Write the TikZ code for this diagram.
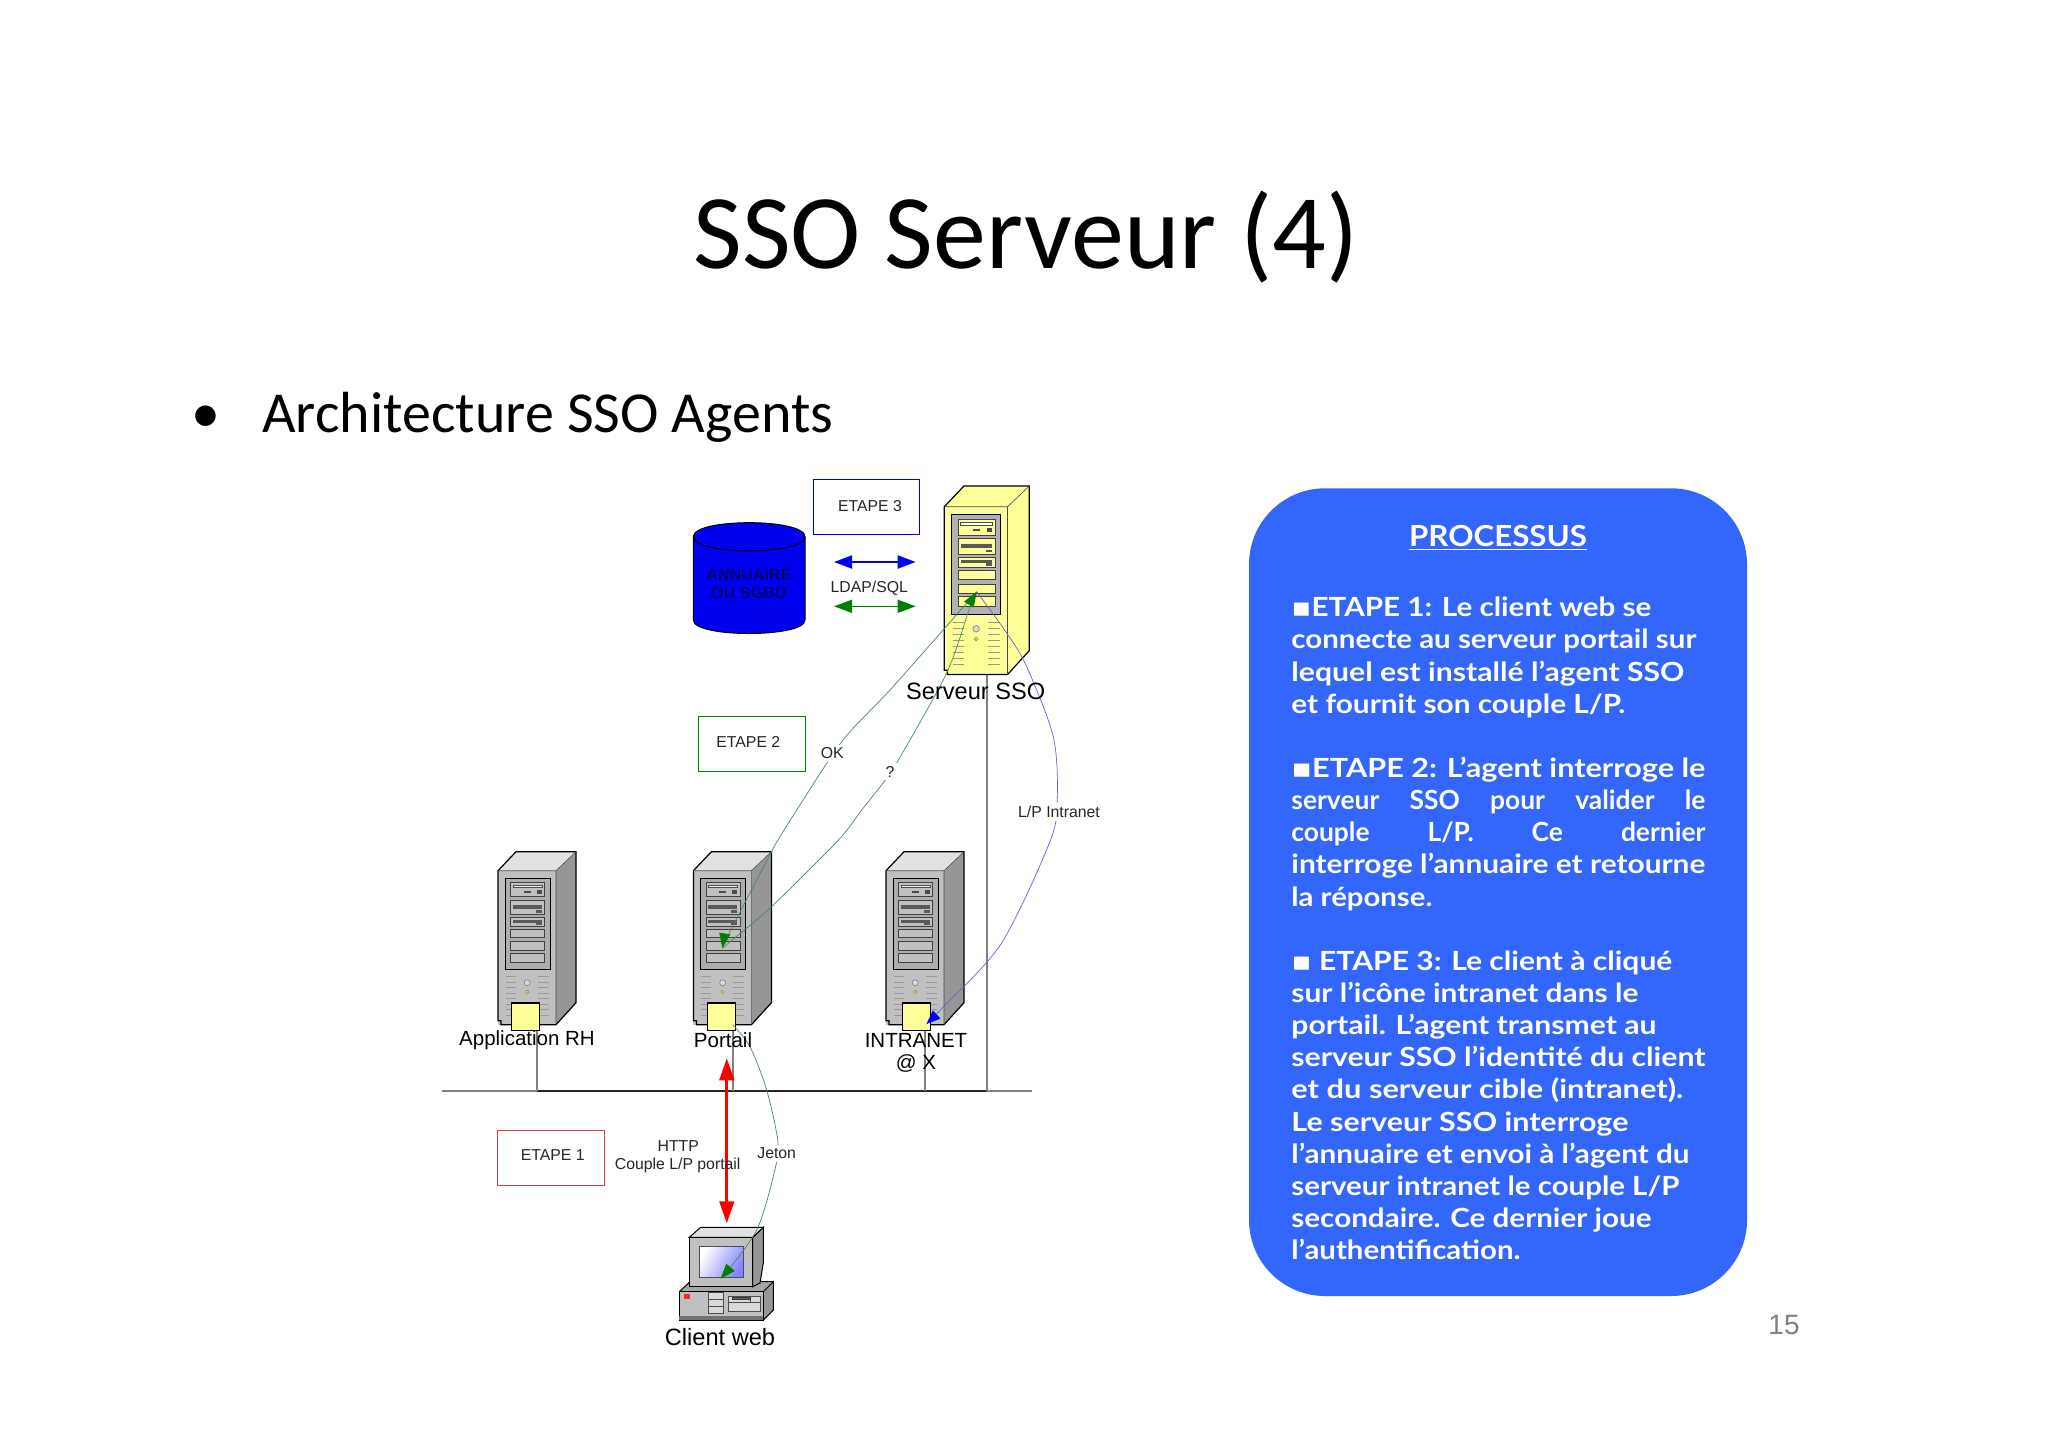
\documentclass[tikz,border=0pt]{standalone}
\usepackage{fontspec}
\usepackage{graphicx}
\usetikzlibrary{arrows.meta}
\setmainfont{Liberation Sans}
\newfontfamily\titlefont{Carlito}
\newfontfamily\comicfont{Lato}
\newfontfamily\symbfont{DejaVu Sans}
\definecolor{boxblue}{RGB}{51,102,250}
\definecolor{cylblue}{RGB}{0,0,240}
\definecolor{dgreen}{RGB}{0,128,0}
\definecolor{thingreen}{RGB}{70,140,90}
\definecolor{thinblue}{RGB}{100,100,220}
\definecolor{yel}{RGB}{255,255,153}
\definecolor{srvfront}{RGB}{192,192,192}
\definecolor{srvside}{RGB}{150,150,150}
\definecolor{srvtop}{RGB}{225,225,225}
\definecolor{etred}{RGB}{225,60,75}
\definecolor{annutext}{RGB}{0,0,110}
\definecolor{scrblue}{RGB}{130,130,255}
\tikzset{
  sl/.style={font=\fontsize{7.9}{9.5}\selectfont, text=black!85, inner sep=0pt},
  bigl/.style={font=\fontsize{10.25}{12}\selectfont, text=black, inner sep=0pt},
  biggerl/.style={font=\fontsize{11.8}{14}\selectfont, text=black, inner sep=0pt},
  gapl/.style={sl, fill=white, inner sep=1.5pt},
  etapebox/.style={draw=#1, line width=.55pt, fill=white},
  wire/.style={draw=black!50, line width=.55pt},
  thing/.style={draw=thingreen, line width=.35pt},
  thinb/.style={draw=thinblue, line width=.35pt},
  gtip/.style={-{Triangle[length=7.5pt,width=5.5pt,fill=dgreen,color=dgreen]}},
  pline/.style={anchor=base west, inner sep=0pt, text=white, font=\comicfont\bfseries\fontsize{13.2}{16}\selectfont},
}
\newcommand{\fitline}[2]{\resizebox{#1}{\height}{#2}}
\newcommand{\pl}[3]{\node[pline] (pl#1) at (1291,{616.7+32.15*#1}) {\fitline{#2pt}{#3}};}
\newcommand{\pj}[3]{\node[pline] (pl#1) at (1291,{616.7+32.15*#1}) {\makebox[#2pt][s]{#3}};}
% name x y scale front side top panel bay
\newcommand{\serveur}[9]{%
\begin{scope}[shift={(#2,#3)},scale=#4]
  \fill[#6] (58,0) -- (78,-19) -- (78,132) -- (58,154) -- cycle;
  \fill[#7] (0,0) -- (18,-19) -- (78,-19) -- (58,0) -- cycle;
  \fill[#5] (0,0) rectangle (58,154);
  \draw[line width=.6pt,black] (0,150) -- (0,0) -- (18,-19) -- (78,-19) -- (78,132) -- (58,154) -- (3,154) -- (3,150) -- cycle;
  \draw[line width=.3pt,black!70] (0,0) -- (58,0) -- (78,-19) (58,0) -- (58,154);
  \draw[line width=.5pt,black,fill=#8] (7,7.6) rectangle (52,98.6);
  \foreach \a/\b in {12/26,29.3/43.3,46.6/55.3,58.6/67,71/79.3,82.6/91.3}{
    \draw[line width=.3pt,black!75,fill=#9] (12.5,\a) rectangle (46.5,\b);
  }
  \draw[line width=.3pt,black!70,fill=white!80!#9] (15,14.5) rectangle (44,17);
  \fill[black!70] (26,20) rectangle (33,22);
  \fill[black!70] (39,19.5) rectangle (44,23);
  \fill[black!65] (15,34) rectangle (44,38);
  \fill[black!65] (38,39.5) rectangle (44,42);
  \fill[black!65] (15,49) rectangle (44,52);
  \fill[black!65] (38,51) rectangle (44,54.5);
  \foreach \v in {0,1,...,7}{
    \draw[line width=.6pt,black!40] (8,106+5.5*\v) -- (18,106+5.5*\v);
    \draw[line width=.6pt,black!40] (40,106+5.5*\v) -- (51,106+5.5*\v);
  }
  \draw[line width=.3pt,black!50,fill=white!85!black] (29.2,112) circle (3);
  \draw[line width=.2pt,black!50,fill=yellow!85!green] (29.2,121.3) circle (1.8);
  \coordinate (#1) at (29,77);
\end{scope}}
\begin{document}
\begin{tikzpicture}[x=.5pt,y=-.5pt]
\useasboundingbox (0,0) rectangle (2048,1447);
\fill[white] (0,0) rectangle (2048,1447);

% slide text
\node[anchor=base, inner sep=0pt, font=\titlefont\fontsize{53}{60}\selectfont] (title) at (1026,268) {SSO Serveur (4)};
\node[anchor=base, inner sep=0pt, font=\titlefont\fontsize{29}{34}\selectfont] (bul) at (205.7,432) {•};
\node[anchor=base west, inner sep=0pt, font=\titlefont\fontsize{29}{34}\selectfont] (sub) at (262,432) {Architecture SSO Agents};
\node[anchor=center, inner sep=0pt, text=black!50, font=\fontsize{14}{16}\selectfont] (pnum) at (1784,1325) {15};

% network wires
\coordinate (hL) at (442,1091);
\coordinate (hR) at (1032,1091);
\draw[wire] (hL) -- (hR);
\draw[line width=.6pt,black!85] (537,1091) -- (987,1091);
\coordinate (w1) at (537,1091);
\coordinate (w2) at (733,1091);
\coordinate (w3) at (925,1091);
\coordinate (w4) at (987,1091);
\draw[wire] (w1) -- (537,1030);
\draw[wire] (w2) -- (733,1030);
\draw[wire] (w3) -- (925,1030);
\draw[wire] (w4) -- (987,675);

% servers
\serveur{srvRH}{498}{870.7}{1}{srvfront}{srvside}{srvtop}{srvfront!90!black}{srvfront}
\serveur{srvPort}{693.4}{870.7}{1}{srvfront}{srvside}{srvtop}{srvfront!90!black}{srvfront}
\serveur{srvIntra}{886}{870.7}{1}{srvfront}{srvside}{srvtop}{srvfront!90!black}{srvfront}
\serveur{srvSSO}{944.3}{506.7}{1.09}{yel}{yel}{yel}{black!30}{yel}

% agents
\node[draw=black,line width=.6pt,fill=yel,inner sep=0pt,minimum width=14pt,minimum height=13.8pt] (agRH) at (525.5,1016.8) {};
\node[draw=black,line width=.6pt,fill=yel,inner sep=0pt,minimum width=14pt,minimum height=13.8pt] (agPort) at (721.3,1016.8) {};
\node[draw=black,line width=.6pt,fill=yel,inner sep=0pt,minimum width=14pt,minimum height=13.8pt] (agIntra) at (916.3,1016.8) {};

% database
\draw[line width=.5pt,black,fill=cylblue] (693.3,536.7) -- (693.3,620) .. controls (693.3,638) and (805,638) .. (805,620) -- (805,536.7) .. controls (805,518) and (693.3,518) .. (693.3,536.7) -- cycle;
\draw[line width=.5pt,black] (693.3,536.7) .. controls (693.3,555.5) and (805,555.5) .. (805,536.7);
\node[inner sep=0pt, align=center, text=annutext, font=\bfseries\fontsize{8.1}{9.2}\selectfont] (annu) at (749,584) {ANNUAIRE\\OU SGBD};

% client web
\fill[black!35] (679.3,1291.7) -- (690,1281.7) -- (773.3,1281.7) -- (763.3,1291.7) -- cycle;
\draw[line width=.5pt,black,fill=srvside] (763.3,1291.7) -- (773.3,1281.7) -- (773.3,1310) -- (763.3,1320) -- cycle;
\draw[line width=.5pt,black,fill=srvfront] (679.3,1291.7) rectangle (763.3,1320);
\draw[line width=.5pt,black] (679.3,1291.7) -- (690,1281.7) -- (773.3,1281.7);
\fill[black!55] (679.3,1316) rectangle (763.3,1320);
\fill[red!85] (684,1294) rectangle (690,1299);
\draw[line width=.3pt,black!70,fill=black!15] (708,1292) rectangle (723,1313);
\draw[line width=.3pt,black!70] (708,1299) -- (723,1299) (708,1306) -- (723,1306);
\draw[line width=.3pt,black!70,fill=black!15] (728,1296) rectangle (760,1311);
\draw[line width=.3pt,black!70] (728,1302) -- (760,1302) (750,1296) -- (750,1302);
\draw[line width=.5pt,black!80,fill=black!60] (732,1297) rectangle (750,1299);
\draw[line width=.5pt,black,fill=srvside] (752.7,1237.3) -- (763.3,1227.3) -- (763.3,1263) -- (760,1283) -- (752.7,1286.7) -- cycle;
\draw[line width=.5pt,black,fill=srvtop] (689.3,1237.3) -- (700.7,1227.3) -- (763.3,1227.3) -- (752.7,1237.3) -- cycle;
\draw[line width=.5pt,black,fill=srvfront] (689.3,1237.3) rectangle (752.7,1286.7);
\shade[top color=white,bottom color=scrblue,shading angle=60] (699.3,1246) rectangle (743.3,1277.3);
\draw[line width=.3pt,black!70] (699.3,1246) rectangle (743.3,1277.3);
\coordinate (clientScreen) at (720.7,1278.7);

% step boxes
\node[etapebox=blue!85!black,minimum width=53pt,minimum height=27.5pt,inner sep=0pt] (et3) at (866.2,506.8) {};
\node[etapebox=green!50!black,minimum width=53.5pt,minimum height=27.5pt,inner sep=0pt] (et2) at (751.8,744.2) {};
\node[etapebox=etred,minimum width=53.3pt,minimum height=27.6pt,inner sep=0pt] (et1) at (551,1157.7) {};
\node[sl] (et3t) at (870,505.7) {ETAPE 3};
\node[sl] (et2t) at (748.3,741.7) {ETAPE 2};
\node[sl] (et1t) at (552.7,1155) {ETAPE 1};

% protocol arrows
\coordinate (bluL) at (834,562);
\coordinate (bluR) at (915.7,562);
\coordinate (grnL) at (834,606.3);
\coordinate (grnR) at (915.7,606.3);
\draw[blue!85!black,line width=1pt,{Triangle[length=9pt,width=6.5pt,fill=blue,color=blue]}-{Triangle[length=9pt,width=6.5pt,fill=blue,color=blue]}] (bluL) -- (bluR);
\draw[dgreen,line width=.7pt,{Triangle[length=9pt,width=6.5pt]}-{Triangle[length=9pt,width=6.5pt]}] (grnL) -- (grnR);
\node[sl] (ldap) at (869.3,588.7) {LDAP/SQL};

% red HTTP arrow
\coordinate (redT) at (726.8,1058.3);
\coordinate (redB) at (726.8,1223.3);
\draw[red,line width=1.5pt,{Triangle[length=11pt,width=7.3pt]}-{Triangle[length=11pt,width=7.3pt]}] (redT) -- (redB);

% thin connectors
\coordinate (ssoTip) at (976.7,591.7);
\coordinate (portTip) at (722.4,948.3);
\coordinate (intraTip) at (926.4,1024);
\coordinate (portAgent) at (733,1025);
\draw[thing,gtip] plot[smooth,tension=.45] coordinates {(ssoTip) (893,686.7) (843,740) (796.7,810) (778,840) (771.5,851.7) (729,933.3) (portTip)};
\draw[thing,gtip] plot[smooth,tension=.45] coordinates {(portTip) (734.5,938) (771.5,906.7) (838.5,840) (861.7,810) (883,783) (896.7,763) (946.7,673) (970,606.7) (ssoTip)};
\draw[thinb,-{Triangle[length=7pt,width=5.5pt,fill=blue,color=blue]}] plot[smooth,tension=.5] coordinates {(ssoTip) (1006.7,633) (1026.7,666.7) (1053.3,736.7) (1057.3,796.7) (1050.5,840) (1001.4,943.3) (943.4,1006.7) (intraTip)};
\draw[thing,gtip] plot[smooth,tension=.5] coordinates {(portAgent) (750,1046.7) (766.7,1090) (777.7,1140) (776,1165) (756.7,1230) (clientScreen)};

% connector labels
\node[gapl] (lOK) at (832.3,753.3) {OK};
\node[gapl] (lQ) at (890,771.7) {?};
\node[gapl] (lLP) at (1059,812) {L/P Intranet};
\node[gapl] (lJeton) at (776.7,1153.3) {Jeton};
\node[sl] (lHTTP) at (678.3,1146) {HTTP};
\node[sl] (lCouple) at (677.7,1165) {Couple L/P portail};

% machine labels
\node[biggerl] (tSSO) at (975.7,691.7) {Serveur SSO};
\node[biggerl] (tClient) at (720,1337) {Client web};
\node[bigl] (tRH) at (527,1040) {Application RH};
\node[bigl] (tPort) at (723,1040) {Portail};
\node[bigl] (tIntra) at (916,1040) {INTRANET};
\node[bigl] (tAt) at (916,1063) {@ X};

% process panel
\fill[boxblue,rounded corners=38pt] (1249,488.3) rectangle (1747,1296);
\node[inner sep=0pt, anchor=base, text=white, font=\comicfont\bfseries\fontsize{14.5}{17}\selectfont] (proc) at (1498,546) {\underline{\fitline{89pt}{PROCESSUS}}};
\pl{0}{180}{{\symbfont ▪}ETAPE 1: Le client web se}
\pl{1}{202.5}{connecte au serveur portail sur}
\pl{2}{196.5}{lequel est installé l’agent SSO}
\pl{3}{167}{et fournit son couple L/P.}
\pl{5}{207}{{\symbfont ▪}ETAPE 2: L’agent interroge le}
\pj{6}{207}{serveur SSO pour valider le}
\pj{7}{207}{couple L/P. Ce dernier}
\pl{8}{207}{interroge l’annuaire et retourne}
\pl{9}{70.5}{la réponse.}
\pl{11}{190.5}{{\symbfont ▪} ETAPE 3: Le client à cliqué}
\pl{12}{173.5}{sur l’icône intranet dans le}
\pl{13}{182.5}{portail. L’agent transmet au}
\pl{14}{207}{serveur SSO l’identité du client}
\pl{15}{196}{et du serveur cible (intranet).}
\pl{16}{168.5}{Le serveur SSO interroge}
\pl{17}{199}{l’annuaire et envoi à l’agent du}
\pl{18}{194}{serveur intranet le couple L/P}
\pl{19}{180}{secondaire. Ce dernier joue}
\pl{20}{114.5}{l’authentification.}
\end{tikzpicture}
\end{document}
